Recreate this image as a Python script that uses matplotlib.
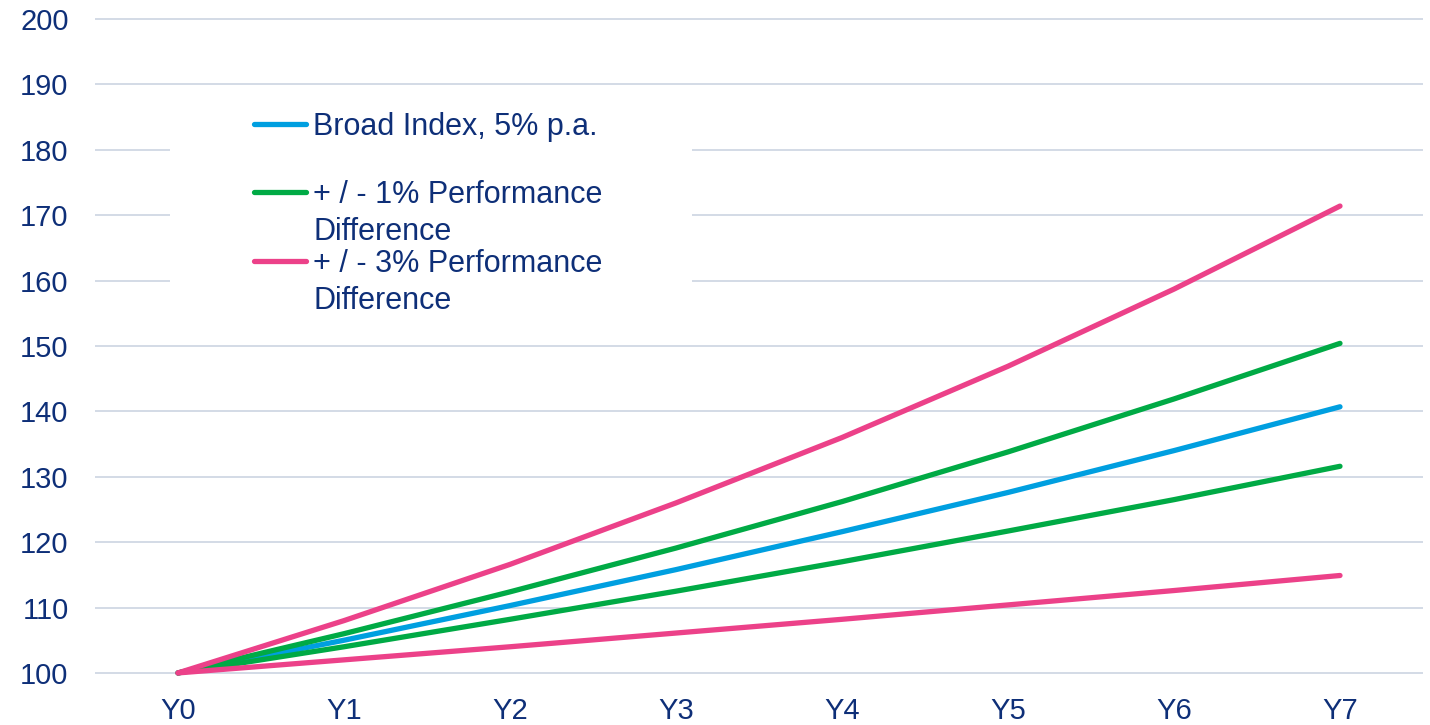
import matplotlib.pyplot as plt
from matplotlib.lines import Line2D
from matplotlib.patches import Rectangle

years = ["Y0", "Y1", "Y2", "Y3", "Y4", "Y5", "Y6", "Y7"]

broad = [100, 105.0, 110.3, 115.8, 121.6, 127.6, 134.0, 140.7]
plus1 = [100, 106.0, 112.4, 119.1, 126.2, 133.8, 141.9, 150.4]
minus1 = [100, 104.0, 108.2, 112.5, 117.0, 121.7, 126.5, 131.6]
plus3 = [100, 108.0, 116.6, 126.0, 136.0, 146.9, 158.7, 171.4]
minus3 = [100, 102.0, 104.0, 106.1, 108.2, 110.4, 112.6, 114.9]

legend_labels = ["Broad Index, 5% p.a.",
                 "+ / - 1% Performance\nDifference",
                 "+ / - 3% Performance\nDifference"]

BLUE = "#009FE0"
GREEN = "#00AA45"
PINK = "#EC4189"
NAVY = "#0E2F78"
GRID = "#D3DAE6"

plt.rcParams['font.family'] = ['Liberation Sans', 'DejaVu Sans']

W, H = 1430, 725
fig = plt.figure(figsize=(W / 100, H / 100), dpi=100)


def fx(px):
    return px / W


def fy(py):
    return 1 - py / H


ax = fig.add_axes([fx(95), fy(686), fx(1423) - fx(95), fy(12.5) - fy(686)])

x = range(len(years))
lw = 3.8
ax.plot(x, broad, color=BLUE, lw=lw, solid_capstyle='round', clip_on=False, zorder=3)
ax.plot(x, plus1, color=GREEN, lw=lw, solid_capstyle='round', clip_on=False, zorder=3)
ax.plot(x, minus1, color=GREEN, lw=lw, solid_capstyle='round', clip_on=False, zorder=3)
ax.plot(x, plus3, color=PINK, lw=lw, solid_capstyle='round', clip_on=False, zorder=4)
ax.plot(x, minus3, color=PINK, lw=lw, solid_capstyle='round', clip_on=False, zorder=4)

ax.set_xlim(-0.5, 7.5)
ax.set_ylim(98, 201)
ax.set_yticks(range(100, 201, 10))
ax.set_xticks(list(x))
ax.set_xticklabels(years)
ax.grid(axis='y', color=GRID, lw=1.4)
ax.set_axisbelow(True)
for s in ax.spines.values():
    s.set_visible(False)
ax.tick_params(axis='both', length=0, labelsize=21, labelcolor=NAVY)
ax.tick_params(axis='y', pad=19)
ax.tick_params(axis='x', pad=8)

# legend box drawn by hand so the handle sits on the first text line
fig.patches.append(Rectangle((fx(170), fy(315)), fx(692) - fx(170), fy(95) - fy(315),
                             transform=fig.transFigure, facecolor='white',
                             edgecolor='none', zorder=2))
handle_y = [124, 192, 261]
for lab, col, py in zip(legend_labels, [BLUE, GREEN, PINK], handle_y):
    fig.add_artist(Line2D([fx(254), fx(306)], [fy(py), fy(py)], color=col, lw=lw,
                          solid_capstyle='round', transform=fig.transFigure, zorder=5))
    fig.text(fx(313), fy(py - 12), lab, ha='left', va='top', fontsize=22,
             color=NAVY, linespacing=1.3, zorder=5)

fig.savefig("out.png", dpi=100)
